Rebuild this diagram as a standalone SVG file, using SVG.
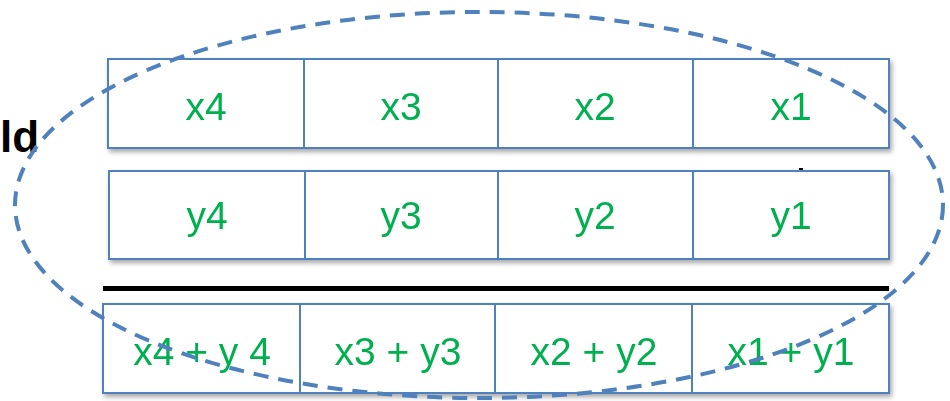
<svg xmlns="http://www.w3.org/2000/svg" width="950" height="401" viewBox="0 0 950 401">
<defs>
<filter id="sh" x="-5%" y="-10%" width="115%" height="130%">
<feGaussianBlur in="SourceAlpha" stdDeviation="2.5"/>
<feOffset dx="2" dy="3"/>
<feComponentTransfer><feFuncA type="linear" slope="0.35"/></feComponentTransfer>
<feMerge><feMergeNode/><feMergeNode in="SourceGraphic"/></feMerge>
</filter>
</defs>
<style>
.cell{fill:#ffffff;stroke:#4F81BD;stroke-width:2}
.t{font-family:"Liberation Sans","Open Sans",sans-serif;font-size:39px;fill:#00B050;text-anchor:middle;dominant-baseline:central}
.ell{fill:none;stroke:#4F81BD;stroke-width:4;stroke-dasharray:15 10}
</style>
<rect width="950" height="401" fill="#ffffff"/>
<text x="0" y="152" font-family="Liberation Sans, Arial, sans-serif" font-size="44" font-weight="bold" fill="#000000">ld</text>
<g id="row-x" filter="url(#sh)">
<g id="x4"><rect class="cell" x="108" y="59" width="196" height="89"/><text class="t" x="206" y="106">x4</text></g>
<g id="x3"><rect class="cell" x="304" y="59" width="194" height="89"/><text class="t" x="401" y="106">x3</text></g>
<g id="x2"><rect class="cell" x="498" y="59" width="195" height="89"/><text class="t" x="595" y="106">x2</text></g>
<g id="x1"><rect class="cell" x="693" y="59" width="196" height="89"/><text class="t" x="791" y="106">x1</text></g>
</g>
<g id="row-y" filter="url(#sh)">
<g id="y4"><rect class="cell" x="109" y="171" width="196" height="88"/><text class="t" x="207" y="215">y4</text></g>
<g id="y3"><rect class="cell" x="305" y="171" width="193" height="88"/><text class="t" x="401" y="215">y3</text></g>
<g id="y2"><rect class="cell" x="498" y="171" width="195" height="88"/><text class="t" x="595" y="215">y2</text></g>
<g id="y1"><rect class="cell" x="693" y="171" width="196" height="88"/><text class="t" x="791" y="215">y1</text></g>
</g>
<rect x="799" y="168" width="4" height="2" fill="#000000"/>
<rect id="sum-line" x="103" y="286" width="786" height="5" fill="#000000"/>
<g id="row-sum" filter="url(#sh)">
<g id="s4"><rect class="cell" x="103" y="304" width="197" height="89"/><text class="t" x="202" y="351">x4 + y 4</text></g>
<g id="s3"><rect class="cell" x="300" y="304" width="195" height="89"/><text class="t" x="398" y="351">x3 + y3</text></g>
<g id="s2"><rect class="cell" x="495" y="304" width="197" height="89"/><text class="t" x="594" y="351">x2 + y2</text></g>
<g id="s1"><rect class="cell" x="692" y="304" width="197" height="89"/><text class="t" x="791" y="351">x1 + y1</text></g>
</g>
<g id="connectors">
<ellipse class="ell" cx="479" cy="205" rx="464" ry="193"/>
</g>
</svg>
